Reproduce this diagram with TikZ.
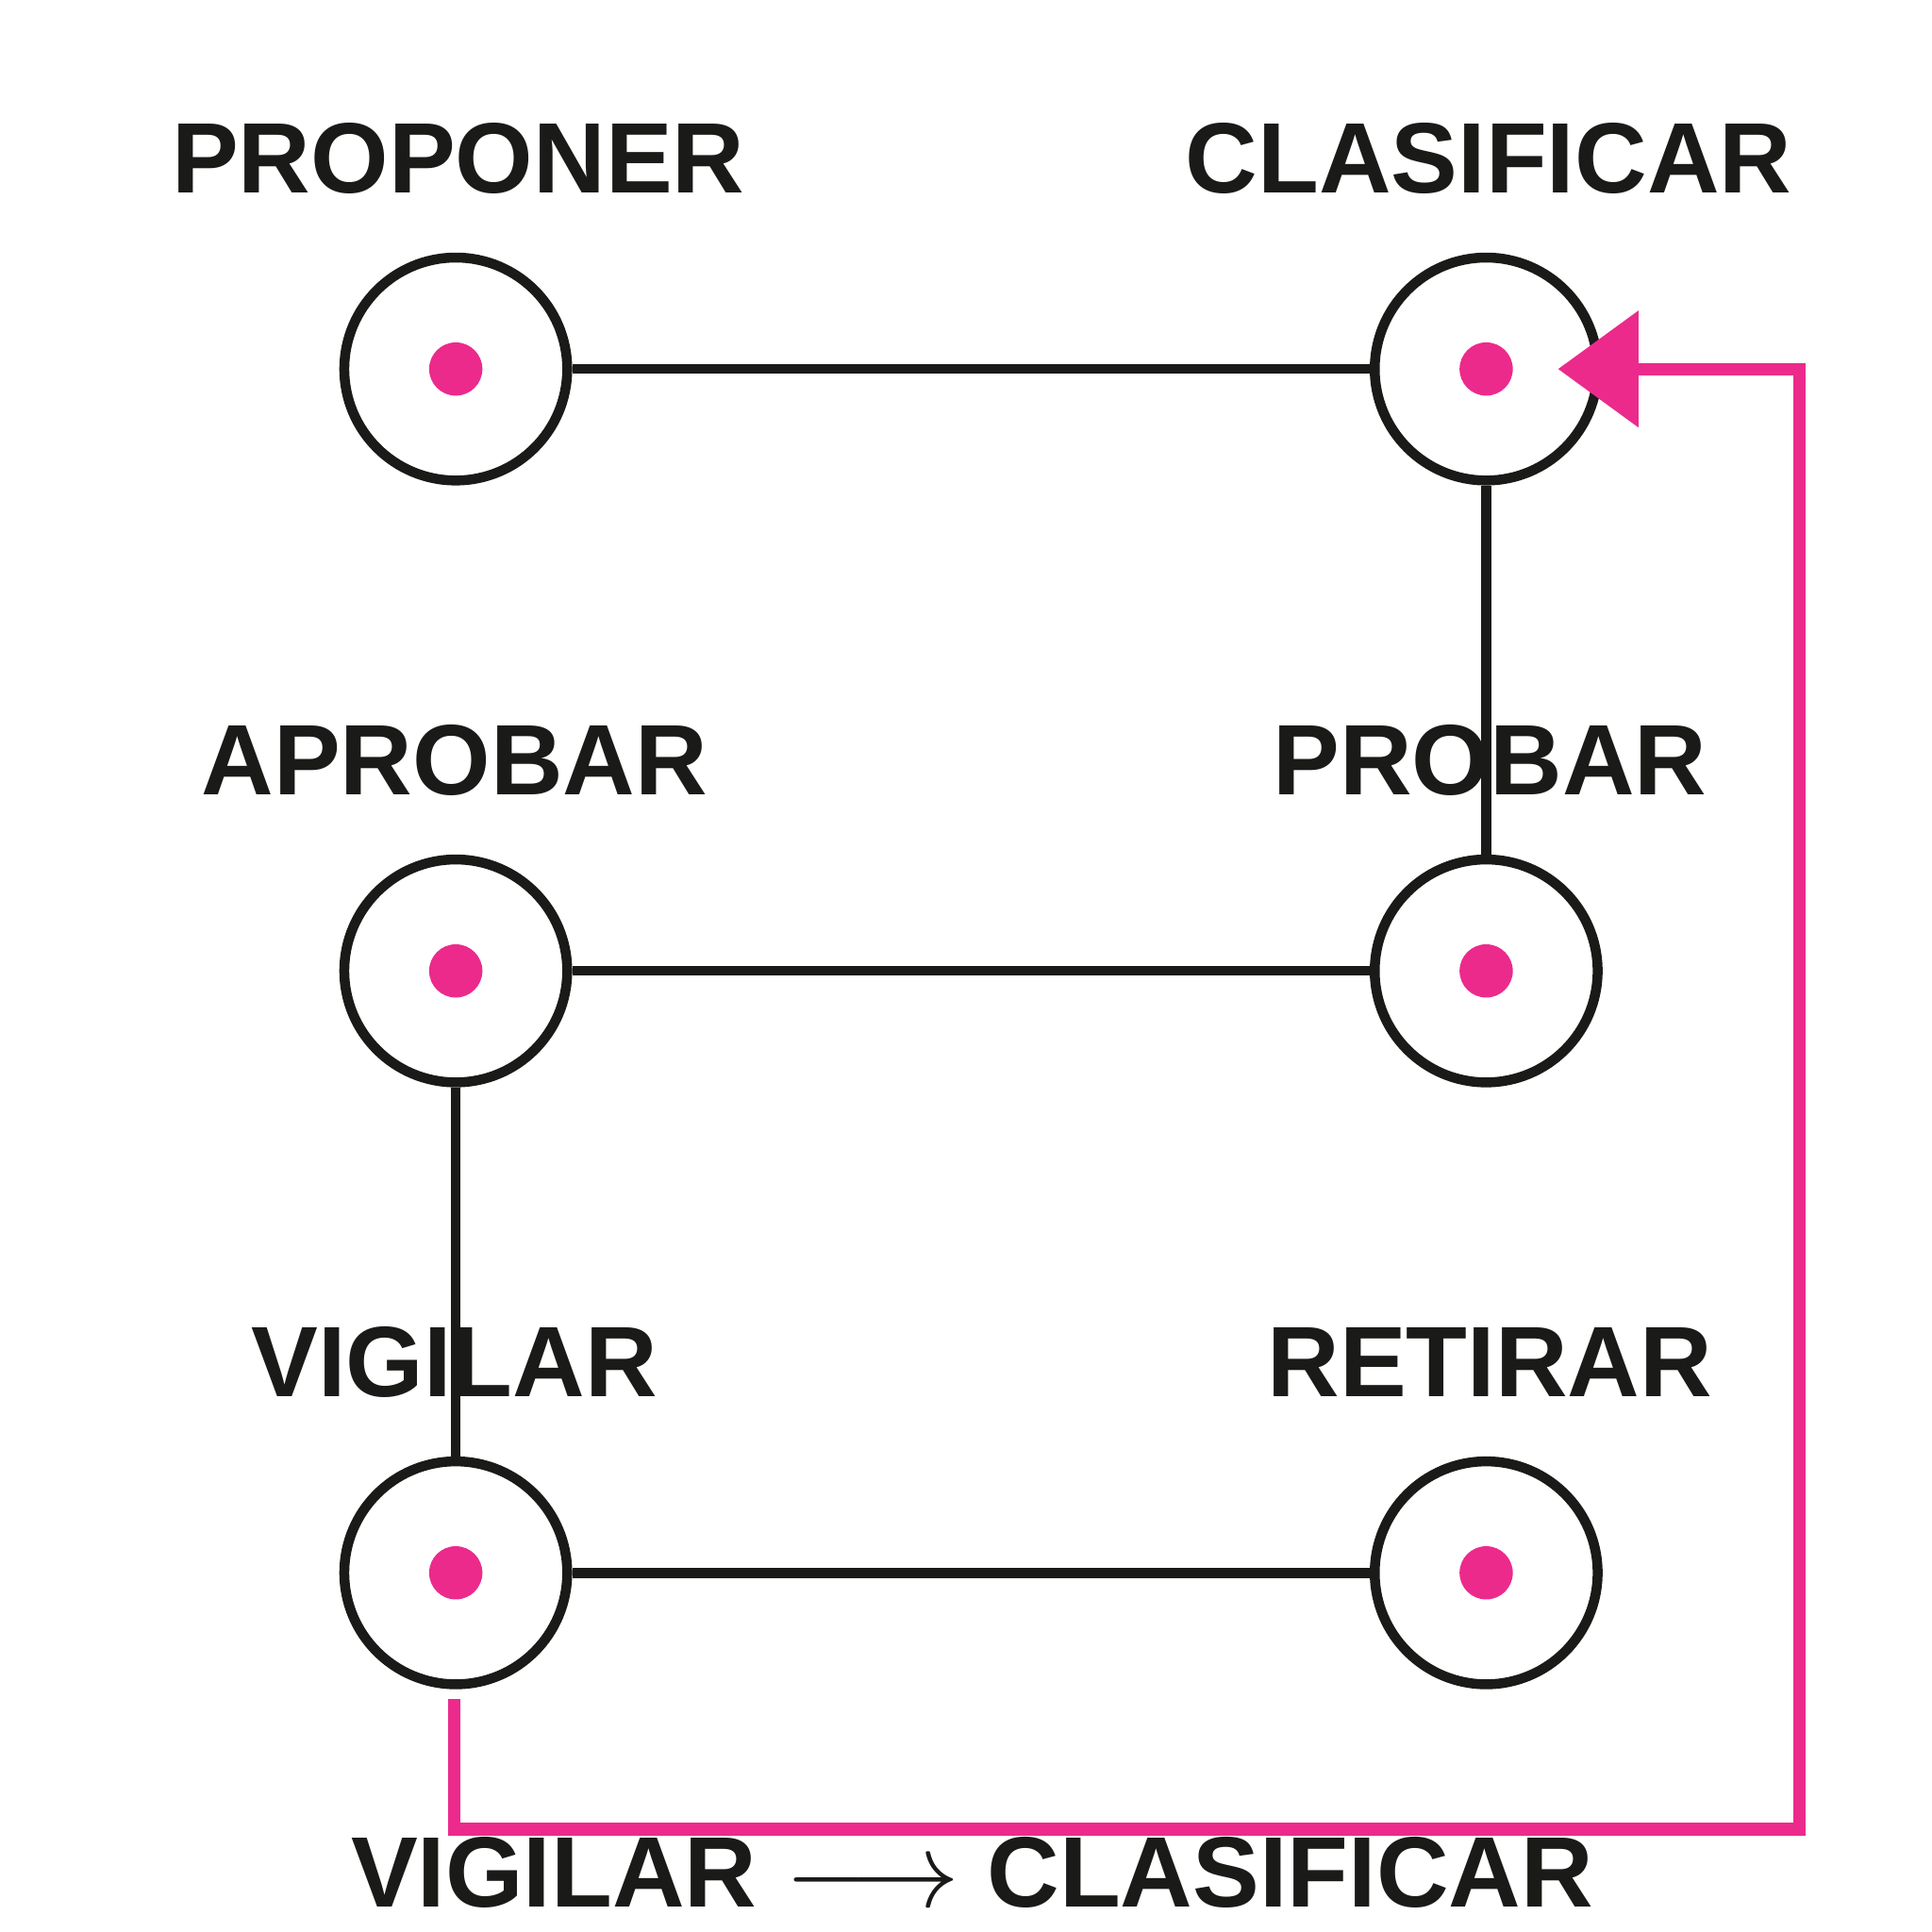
\documentclass[tikz,border=0pt]{standalone}
\usepackage{fontspec}
\setmainfont{Liberation Sans}
\usetikzlibrary{positioning,arrows.meta}
\definecolor{ink}{HTML}{1A1A18}
\definecolor{rosa}{HTML}{EC2A8C}
\tikzset{estado/.style={draw=ink,line width=0.08cm,circle,minimum size=1.8cm,inner sep=0},
    punto/.style={circle,fill=rosa,inner sep=0,minimum size=0.43cm},
    etiqueta/.style={text=ink,font=\bfseries\fontsize{23}{23}\selectfont},
    enlace/.style={draw=ink,line width=0.08cm},
    retorno/.style={draw=rosa,line width=0.1cm,-{Triangle[length=0.65cm,width=0.92cm]}}}

\begin{document}
\begin{tikzpicture}
\useasboundingbox (0,0) rectangle (15.6,15.6);

\node (proponer) [estado] at (3.68,12.62) {};
\node (clasificar) [estado] at (12,12.62) {};
\node (aprobar) [estado] at (3.68,7.76) {};
\node (probar) [estado] at (12,7.76) {};
\node (vigilar) [estado] at (3.68,2.9) {};
\node (retirar) [estado] at (12,2.9) {};

\foreach \n in {proponer,clasificar,aprobar,probar,vigilar,retirar}
    \node [punto] at (\n) {};

\draw [enlace] (proponer) -- (clasificar);
\draw [enlace] (aprobar) -- (probar);
\draw [enlace] (vigilar) -- (retirar);
\draw [enlace] (clasificar) -- (probar);
\draw [enlace] (aprobar) -- (vigilar);

\node (tProponer) [etiqueta] at (3.7,14.32) {PROPONER};
\node (tClasificar) [etiqueta] at (12.02,14.32) {CLASIFICAR};
\node (tAprobar) [etiqueta] at (3.67,9.46) {APROBAR};
\node (tProbar) [etiqueta] at (12.03,9.46) {PROBAR};
\node (tVigilar) [etiqueta] at (3.67,4.6) {VIGILAR};
\node (tRetirar) [etiqueta] at (12.03,4.6) {RETIRAR};

\coordinate (salida) at (3.67,1.88);
\coordinate (llegada) at (12.58,12.62);
\draw [retorno] (salida) -- (3.67,0.83) -- (14.53,0.83) -- (14.53,12.62) -- (llegada);

\node (leyenda) [etiqueta] at (7.85,0.48) {VIGILAR $\longrightarrow$ CLASIFICAR};

\end{tikzpicture}
\end{document}
